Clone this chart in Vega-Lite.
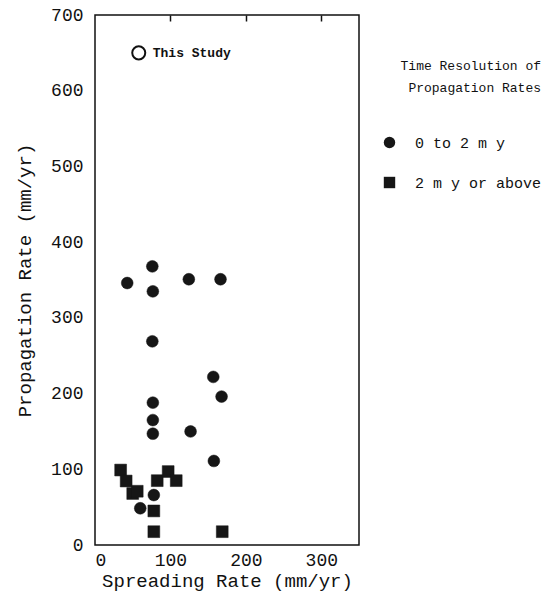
{
  "$schema": "https://vega.github.io/schema/vega-lite/v6.json",
  "autosize": "none",
  "width": 264,
  "height": 530,
  "padding": {"left": 95, "top": 15, "right": 198, "bottom": 52},
  "background": "white",
  "config": {
    "view": {"stroke": "#111", "strokeWidth": 1.5},
    "font": "Liberation Mono",
    "axis": {
      "domain": false,
      "grid": false,
      "labelFont": "Liberation Mono",
      "labelFontSize": 18,
      "labelColor": "#111",
      "titleFont": "Liberation Mono",
      "titleFontSize": 19,
      "titleFontWeight": "normal",
      "titleColor": "#111",
      "tickColor": "#111"
    },
    "legend": {
      "titleFont": "Liberation Mono",
      "labelFont": "Liberation Mono"
    }
  },
  "layer": [
    {
      "data": {
        "values": [
          {"spreading": 34, "propagation": 99, "resolution": "2 m y or above"},
          {"spreading": 41.3, "propagation": 84.5, "resolution": "2 m y or above"},
          {"spreading": 50, "propagation": 68, "resolution": "2 m y or above"},
          {"spreading": 56, "propagation": 71, "resolution": "2 m y or above"},
          {"spreading": 82.5, "propagation": 85, "resolution": "2 m y or above"},
          {"spreading": 97, "propagation": 97, "resolution": "2 m y or above"},
          {"spreading": 107.7, "propagation": 85, "resolution": "2 m y or above"},
          {"spreading": 78, "propagation": 45, "resolution": "2 m y or above"},
          {"spreading": 78, "propagation": 17.6, "resolution": "2 m y or above"},
          {"spreading": 168.7, "propagation": 17.6, "resolution": "2 m y or above"},
          {"spreading": 76, "propagation": 368, "resolution": "0 to 2 m y"},
          {"spreading": 42.7, "propagation": 346, "resolution": "0 to 2 m y"},
          {"spreading": 76.7, "propagation": 335, "resolution": "0 to 2 m y"},
          {"spreading": 124.4, "propagation": 351, "resolution": "0 to 2 m y"},
          {"spreading": 166.4, "propagation": 351, "resolution": "0 to 2 m y"},
          {"spreading": 76, "propagation": 269, "resolution": "0 to 2 m y"},
          {"spreading": 156.8, "propagation": 222, "resolution": "0 to 2 m y"},
          {"spreading": 167.8, "propagation": 196, "resolution": "0 to 2 m y"},
          {"spreading": 76.7, "propagation": 188, "resolution": "0 to 2 m y"},
          {"spreading": 76.7, "propagation": 165, "resolution": "0 to 2 m y"},
          {"spreading": 76.7, "propagation": 147, "resolution": "0 to 2 m y"},
          {"spreading": 126.7, "propagation": 150, "resolution": "0 to 2 m y"},
          {"spreading": 157.6, "propagation": 111, "resolution": "0 to 2 m y"},
          {"spreading": 78, "propagation": 66, "resolution": "0 to 2 m y"},
          {"spreading": 60, "propagation": 48.5, "resolution": "0 to 2 m y"}
        ]
      },
      "mark": {"type": "point", "filled": true, "fill": "#161616", "stroke": "#161616", "strokeWidth": 0.5, "opacity": 1, "size": 140},
      "encoding": {
        "x": {
          "field": "spreading", "type": "quantitative",
          "scale": {"domain": [0, 350], "nice": false, "zero": false},
          "axis": {"title": "Spreading Rate (mm/yr)", "values": [0, 100, 200, 300], "tickSize": 0, "labelPadding": 6, "labelDx": 3, "titlePadding": 2, "orient": "bottom"}
        },
        "y": {
          "field": "propagation", "type": "quantitative",
          "scale": {"domain": [0, 700], "nice": false, "zero": false},
          "axis": {"title": "Propagation Rate (mm/yr)", "values": [0, 100, 200, 300, 400, 500, 600, 700], "tickSize": 0, "labelPadding": 12, "titlePadding": 16}
        },
        "shape": {
          "field": "resolution", "type": "nominal",
          "scale": {"domain": ["0 to 2 m y", "2 m y or above"], "range": ["circle", "square"]},
          "legend": {
            "title": ["Time Resolution of", "Propagation Rates"],
            "orient": "none",
            "legendX": 287,
            "legendY": 45,
            "titleFontSize": 13,
            "titleFontWeight": "normal",
            "titleColor": "#111",
            "titleLineHeight": 22,
            "titleAnchor": "end",
            "titlePadding": 40,
            "labelFontSize": 15,
            "labelColor": "#111",
            "labelOffset": 18,
            "rowPadding": 21,
            "symbolSize": 130,
            "symbolFillColor": "#161616",
            "symbolStrokeColor": "#161616"
          }
        }
      }
    },
    {
      "data": {"values": [{"spreading": 58, "propagation": 650, "label": "This Study"}]},
      "layer": [
        {
          "mark": {"type": "point", "filled": false, "stroke": "#111", "strokeWidth": 2, "size": 170, "opacity": 1},
          "encoding": {
            "x": {"field": "spreading", "type": "quantitative", "axis": {"orient": "top", "title": null, "labels": false, "values": [100, 200, 300], "tickSize": -6, "tickWidth": 1.5}},
            "y": {"field": "propagation", "type": "quantitative"}
          }
        },
        {
          "mark": {"type": "text", "align": "left", "baseline": "middle", "dx": 14, "dy": 0, "fontSize": 13, "fontWeight": "bold", "font": "Liberation Mono", "color": "#111"},
          "encoding": {
            "x": {"field": "spreading", "type": "quantitative"},
            "y": {"field": "propagation", "type": "quantitative"},
            "text": {"field": "label"}
          }
        }
      ]
    }
  ],
  "resolve": {"axis": {"x": "independent"}}
}
